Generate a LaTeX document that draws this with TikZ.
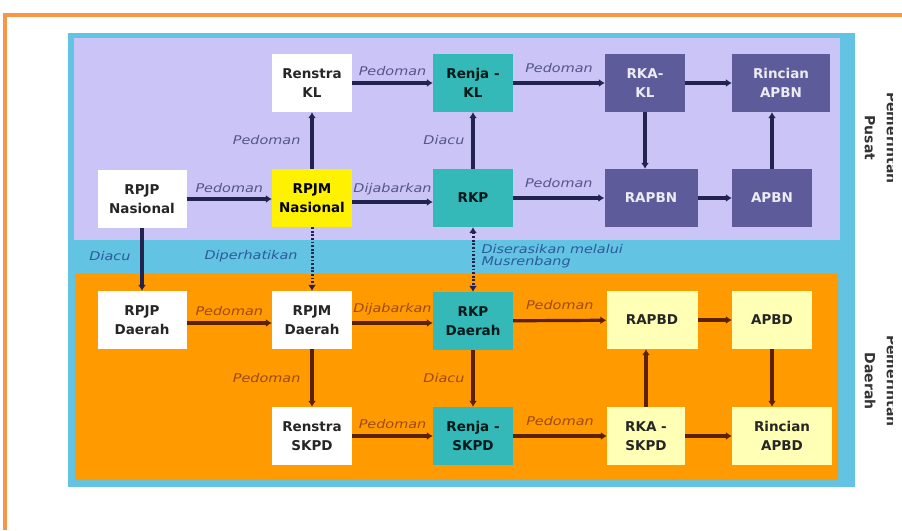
\documentclass[tikz,border=0pt]{standalone}
\usepackage{fontspec}
\setmainfont{DejaVu Sans}
\newfontfamily\labelfont{DejaVu Sans}[FakeStretch=1.2]
\usepackage{xcolor}
\usepackage{tikz}
\usetikzlibrary{positioning,arrows.meta}

\definecolor{lavender}{HTML}{CBC4F6}
\definecolor{skyband}{HTML}{62C3E2}
\definecolor{orangebg}{HTML}{FF9A00}
\definecolor{framecol}{HTML}{F79646}
\definecolor{tealbox}{HTML}{35B8B8}
\definecolor{slatebox}{HTML}{5E5B9A}
\definecolor{paleyellow}{HTML}{FFFFB5}
\definecolor{navyline}{HTML}{23234F}
\definecolor{brownline}{HTML}{5C2200}
\definecolor{navylabel}{HTML}{55558A}
\definecolor{brownlabel}{HTML}{9E4A10}
\definecolor{bluelabel}{HTML}{2E5A9C}

\begin{document}
\begin{tikzpicture}[x=1pt, y=-1pt,
  box/.style={minimum width=80pt, minimum height=58pt, inner sep=2pt, align=center,
    font=\fontsize{13.5}{19.5}\selectfont\bfseries},
  whitebox/.style={box, fill=white, text=black!85},
  tealnode/.style={box, fill=tealbox, text=black!80!teal},
  slatenode/.style={box, fill=slatebox, text=white!88!slatebox},
  paleynode/.style={box, fill=paleyellow, text=black!85},
  lbl/.style={font=\labelfont\fontsize{12}{13}\selectfont\itshape, inner sep=1pt},
  uparrow/.style={draw=navyline, line width=3.2pt, -{Latex[length=6pt,width=8pt]}},
  downarrow/.style={draw=brownline, line width=3.2pt, -{Latex[length=6pt,width=8pt]}},
  dotarrow/.style={draw=navyline, line width=3pt, dash pattern=on 1.8pt off 1.8pt}
]
\useasboundingbox (0,0) rectangle (902,530);

% frame and bands
\draw[framecol, line width=3.5pt] (5,530) -- (5,15) -- (902,15);
\fill[skyband] (68,33) rectangle (855,487);
\fill[lavender] (74,38) rectangle (840,240);
\fill[orangebg, rounded corners=3pt] (75,273) rectangle (838,480);

% Pusat level
\node[whitebox] (renstrakl) at (312,83) {Renstra\\KL};
\node[tealnode] (renjakl) at (473,83) {Renja -\\KL};
\node[slatenode] (rkakl) at (645,83) {RKA-\\KL};
\node[slatenode, minimum width=98pt] (rincianapbn) at (781,83) {Rincian\\APBN};
\node[whitebox, minimum width=89pt] (rpjpnas) at (142,199) {RPJP\\Nasional};
\node[box, fill=yellow] (rpjmnas) at (312,198) {RPJM\\Nasional};
\node[tealnode] (rkp) at (473,198) {RKP};
\node[slatenode, minimum width=93pt] (rapbn) at (651,198) {RAPBN};
\node[slatenode] (apbn) at (772,198) {APBN};

% Daerah level
\node[whitebox, minimum width=89pt] (rpjpdaerah) at (142,320) {RPJP\\Daerah};
\node[whitebox] (rpjmdaerah) at (312,320) {RPJM\\Daerah};
\node[tealnode] (rkpdaerah) at (473,321) {RKP\\Daerah};
\node[paleynode, minimum width=91pt] (rapbd) at (652,320) {RAPBD};
\node[paleynode] (apbd) at (772,320) {APBD};
\node[whitebox] (renstraskpd) at (312,436) {Renstra\\SKPD};
\node[tealnode] (renjaskpd) at (473,436) {Renja -\\SKPD};
\node[paleynode, minimum width=78pt] (rkaskpd) at (646,436) {RKA -\\SKPD};
\node[paleynode, minimum width=100pt] (rincianapbd) at (782,436) {Rincian\\APBD};

% Pusat connectors
\draw[uparrow] (renstrakl) -- node[lbl, above=5pt, text=navylabel] {Pedoman} (renjakl);
\draw[uparrow] (renjakl) -- node[lbl, above=8pt, text=navylabel] {Pedoman} (rkakl);
\draw[uparrow] (rkakl) -- (rincianapbn);
\draw[uparrow] (rkakl) -- (rkakl |- rapbn.north);
\draw[uparrow] (rapbn) -- (apbn);
\draw[uparrow] (apbn) -- (apbn |- rincianapbn.south);
\draw[uparrow] (rpjpnas) -- node[lbl, above=4pt, text=navylabel] {Pedoman} (rpjpnas -| rpjmnas.west);
\draw[uparrow] (rpjmnas) -- node[lbl, left=9pt, text=navylabel] {Pedoman} (renstrakl);
\draw[uparrow] (rpjmnas.east |- 0,202) -- node[lbl, above=4pt, text=navylabel] {Dijabarkan} (rkp.west |- 0,202);
\draw[uparrow] (rkp) -- node[lbl, left=6pt, text=navylabel] {Diacu} (renjakl);
\draw[uparrow] (rkp) -- node[lbl, above=8pt, text=navylabel] {Pedoman} (rapbn);

% between levels
\draw[uparrow] (rpjpnas) -- node[lbl, left=9pt, pos=0.45, text=bluelabel] {Diacu} (rpjpdaerah);
\draw[dotarrow, -{Latex[length=6pt,width=8pt]}] (rpjmnas) -- node[lbl, left=12pt, pos=0.45, text=bluelabel] {Diperhatikan} (rpjmdaerah);
\draw[dotarrow, {Latex[length=6pt,width=8pt]}-{Latex[length=6pt,width=8pt]}] (rkp) -- node[lbl, right=6pt, pos=0.45, align=left, text=bluelabel, font=\labelfont\fontsize{12}{12.5}\selectfont\itshape] {Diserasikan melalui\\Musrenbang} (rkpdaerah);

% Daerah connectors
\draw[downarrow] (rpjpdaerah.east |- 0,323) -- node[lbl, above=5pt, text=brownlabel] {Pedoman} (rpjmdaerah.west |- 0,323);
\draw[downarrow] (rpjmdaerah.east |- 0,323) -- node[lbl, above=5pt, text=brownlabel] {Dijabarkan} (rkpdaerah.west |- 0,323);
\draw[downarrow] (rpjmdaerah) -- node[lbl, left=9pt, text=brownlabel] {Pedoman} (renstraskpd);
\draw[downarrow] (rkpdaerah) -- node[lbl, left=6pt, text=brownlabel] {Diacu} (renjaskpd);
\draw[downarrow] (renstraskpd) -- node[lbl, above=5pt, text=brownlabel] {Pedoman} (renjaskpd);
\draw[downarrow] (rkpdaerah) -- node[lbl, above=8pt, text=brownlabel] {Pedoman} (rapbd);
\draw[downarrow] (renjaskpd) -- node[lbl, above=8pt, text=brownlabel] {Pedoman} (rkaskpd);
\draw[downarrow] (rkaskpd) -- (rkaskpd |- rapbd.south);
\draw[downarrow] (rapbd) -- (apbd);
\draw[downarrow] (apbd) -- (apbd |- rincianapbd.north);
\draw[downarrow] (rkaskpd) -- (rincianapbd);

% side titles, cut at the right edge
\begin{scope}
\clip (855,0) rectangle (892,530);
\node[rotate=-90, align=center, text=black!80, font=\fontsize{14}{22}\selectfont\bfseries] (sidepusat) at (881,138) {Pemerintah\\Pusat};
\node[rotate=-90, align=center, text=black!80, font=\fontsize{14}{22}\selectfont\bfseries] (sidedaerah) at (881,381) {Pemerintah\\Daerah};
\end{scope}
\end{tikzpicture}
\end{document}
